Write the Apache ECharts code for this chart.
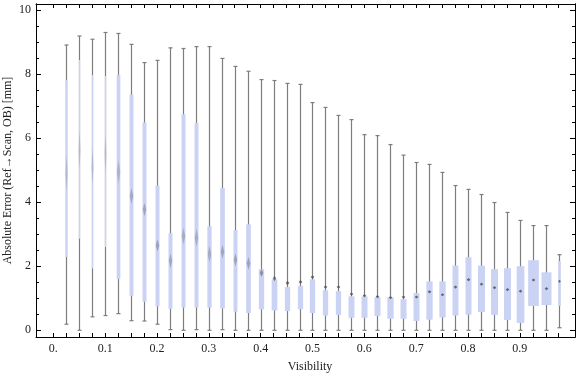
<!DOCTYPE html>
<html>
<head>
<meta charset="utf-8">
<script src="https://cdn.jsdelivr.net/npm/echarts@6/dist/echarts.min.js"></script>
<style>
  html, body { margin: 0; padding: 0; background: #fff; }
  #chart { width: 576px; height: 377px; }
</style>
</head>
<body>
<div id="chart"></div>
<script>
// box-whisker data, one entry per visibility bin
const visibility = [0.025, 0.05, 0.075, 0.1, 0.125, 0.15, 0.175, 0.2, 0.225, 0.25,
  0.275, 0.3, 0.325, 0.35, 0.375, 0.4, 0.425, 0.45, 0.475, 0.5,
  0.525, 0.55, 0.575, 0.6, 0.625, 0.65, 0.675, 0.7, 0.725, 0.75,
  0.775, 0.8, 0.825, 0.85, 0.875, 0.9, 0.925, 0.95, 0.975];
const mins = [0.19, 0, 0.42, 0.46, 0.52, 0.30, 0.29, 0.19, 0.02, 0,
  0.02, 0, 0.02, 0, 0, 0, 0, 0, 0, 0,
  0, 0, 0, 0, 0, 0, 0, 0, 0, 0,
  0, 0, 0, 0, 0, 0, 0, 0, 0.08];
const q1 = [2.29, 2.86, 1.93, 2.60, 1.60, 1.08, 0.89, 0.75, 0.67, 0.71,
  0.71, 0.71, 0.68, 0.58, 0.54, 0.65, 0.62, 0.60, 0.66, 0.54,
  0.46, 0.48, 0.39, 0.39, 0.45, 0.36, 0.36, 0.29, 0.33, 0.40,
  0.46, 0.49, 0.57, 0.48, 0.32, 0.23, 0.76, 0.79, 0.76];
const q3 = [7.81, 8.44, 7.97, 7.94, 7.97, 7.36, 6.49, 4.52, 3.03, 6.75,
  6.47, 3.25, 4.44, 3.13, 3.31, 1.91, 1.59, 1.35, 1.38, 1.59,
  1.25, 1.22, 1.06, 1.06, 1.03, 1.03, 0.97, 1.16, 1.53, 1.53,
  2.02, 2.28, 2.02, 1.91, 1.94, 2.00, 2.19, 1.81, 2.16];
const maxes = [8.91, 9.19, 9.09, 9.30, 9.27, 8.93, 8.36, 8.43, 8.82, 8.80,
  8.86, 8.86, 8.49, 8.24, 8.09, 7.83, 7.80, 7.71, 7.68, 7.11,
  6.96, 6.71, 6.58, 6.11, 6.08, 5.80, 5.47, 5.24, 5.18, 4.93,
  4.52, 4.40, 4.24, 3.99, 3.68, 3.43, 3.27, 3.27, 2.36];
const medians = [4.90, 5.63, 5.10, 5.52, 4.95, 4.19, 3.77, 2.65, 2.17, 2.94,
  2.89, 2.38, 2.45, 2.20, 2.09, 1.79, 1.62, 1.48, 1.51, 1.66,
  1.35, 1.35, 1.13, 1.08, 1.05, 1.02, 1.04, 1.04, 1.20, 1.11,
  1.35, 1.58, 1.44, 1.33, 1.27, 1.22, 1.57, 1.30, 1.53];
const medianCI = [0.56, 0.6, 0.55, 0.6, 0.37, 0.25, 0.21, 0.19, 0.23, 0.26,
  0.28, 0.26, 0.22, 0.2, 0.2, 0.12, 0.09, 0.07, 0.06, 0.06,
  0.05, 0.05, 0.05, 0.05, 0.05, 0.05, 0.05, 0.05, 0.05, 0.05,
  0.05, 0.05, 0.05, 0.05, 0.05, 0.05, 0.03, 0.03, 0.05];

const xLabelValues = [0, 0.1, 0.2, 0.3, 0.4, 0.5, 0.6, 0.7, 0.8, 0.9];
const xTickLabels = ['0.', '0.1', '0.2', '0.3', '0.4', '0.5', '0.6', '0.7', '0.8', '0.9'];
const yLabelValues = [0, 2, 4, 6, 8, 10];
const yTickLabels = ['0', '2', '4', '6', '8', '10'];

// box widths in pixels (style only)
const boxWidthPx = [2.3, 1.3, 1.3, 1.3, 3.7, 4, 4, 4, 4, 4,
  4, 4.3, 4.7, 4, 4.7, 5.3, 5.7, 5.3, 5.3, 5.3,
  5.3, 5.3, 6, 6, 6, 6.3, 6, 6, 6.3, 6.3,
  6, 6, 7, 7, 7, 7.7, 10.7, 10, 2.7];

const xTicks = [];
for (let i = 0; i < 40; i++) xTicks.push(+(i * 0.025).toFixed(3));
const yMinorTicks = [];
for (let i = 0; i <= 20; i++) yMinorTicks.push(i * 0.5);

const X_MIN = -0.0334, X_MAX = 1.0064;
const Y_MIN = -0.21, Y_MAX = 10.19;
const FONT = 'Liberation Serif';
const TEXT = '#222';

const chart = echarts.init(document.getElementById('chart'));

function xAxisDef(pos, withLabels) {
  return {
    type: 'value', position: pos, min: X_MIN, max: X_MAX,
    axisLine: { onZero: false, lineStyle: { color: '#000', width: 1 } },
    axisTick: { inside: true, length: 4, customValues: xTicks, lineStyle: { color: '#000' } },
    axisLabel: withLabels ? {
      customValues: xLabelValues, margin: 6,
      fontFamily: FONT, fontSize: 12, color: TEXT,
      formatter: v => {
        const i = xLabelValues.findIndex(t => Math.abs(t - v) < 1e-6);
        return i >= 0 ? xTickLabels[i] : '';
      }
    } : { show: false },
    splitLine: { show: false }
  };
}

function yAxisDef(pos, major, withLabels) {
  return {
    type: 'value', position: pos, min: Y_MIN, max: Y_MAX,
    axisLine: { onZero: false, lineStyle: { color: '#000', width: 1 } },
    axisTick: {
      inside: true, length: major ? 5 : 3,
      customValues: major ? yLabelValues : yMinorTicks,
      lineStyle: { color: '#000' }
    },
    axisLabel: withLabels ? {
      customValues: yLabelValues, margin: 5,
      fontFamily: FONT, fontSize: 12, color: TEXT,
      formatter: v => {
        const i = yLabelValues.findIndex(t => Math.abs(t - v) < 1e-6);
        return i >= 0 ? yTickLabels[i] : '';
      }
    } : { show: false },
    splitLine: { show: false }
  };
}

const xBottom = xAxisDef('bottom', true);
xBottom.name = 'Visibility';
xBottom.nameLocation = 'middle';
xBottom.nameGap = 24;
xBottom.nameMoveOverlap = false;
xBottom.nameTextStyle = { fontFamily: FONT, fontSize: 12, color: TEXT, padding: [0, 0, 0, 9] };

const yLeft = yAxisDef('left', true, true);
yLeft.name = 'Absolute Error (Ref\u2192Scan, OB) [mm]';
yLeft.nameLocation = 'middle';
yLeft.nameRotate = 90;
yLeft.nameGap = 22;
yLeft.nameMoveOverlap = false;
yLeft.nameTextStyle = { fontFamily: FONT, fontSize: 12, color: TEXT };

const option = {
  animation: false,
  backgroundColor: '#fff',
  grid: { left: 36, right: 1, top: 4, bottom: 40, containLabel: false, outerBoundsMode: 'none' },
  xAxis: [xBottom, xAxisDef('top', false)],
  yAxis: [
    yLeft,
    yAxisDef('left', false, false),
    yAxisDef('right', true, false),
    yAxisDef('right', false, false)
  ],
  series: [{
    type: 'custom',
    xAxisIndex: 0,
    yAxisIndex: 0,
    data: visibility.map((v, i) => [v, mins[i], q1[i], q3[i], maxes[i], medians[i], medianCI[i]]),
    renderItem: function (params, api) {
      const i = params.dataIndex;
      const x = api.value(0);
      const pMin = api.coord([x, api.value(1)]);
      const pQ1 = api.coord([x, api.value(2)]);
      const pQ3 = api.coord([x, api.value(3)]);
      const pMax = api.coord([x, api.value(4)]);
      const pMed = api.coord([x, api.value(5)]);
      const h = Math.max(1.6, api.size([0, api.value(6)])[1]);
      const cx = Math.round(pMin[0]) + 0.5;
      const w = boxWidthPx[i];
      const whisker = { stroke: '#7d7d7d', lineWidth: 1.2 };
      const op = Math.min(0.85, 0.12 + 1.6 / h);
      const hw = Math.min(1.8, Math.max(1.1, w / 2));
      return {
        type: 'group',
        children: [
          { type: 'line', shape: { x1: cx, y1: pMax[1], x2: cx, y2: pMin[1] }, style: whisker },
          { type: 'line', shape: { x1: cx - 2, y1: pMax[1], x2: cx + 2, y2: pMax[1] }, style: whisker },
          { type: 'line', shape: { x1: cx - 2, y1: pMin[1], x2: cx + 2, y2: pMin[1] }, style: whisker },
          { type: 'rect', shape: { x: cx - w / 2, y: pQ3[1], width: w, height: pQ1[1] - pQ3[1] },
            style: { fill: '#cbd3f5' } },
          { type: 'polygon',
            shape: { points: [[cx, pMed[1] - h], [cx + hw, pMed[1]], [cx, pMed[1] + h], [cx - hw, pMed[1]]] },
            style: { fill: '#555', opacity: op } }
        ]
      };
    }
  }]
};

chart.setOption(option);
</script>
</body>
</html>
